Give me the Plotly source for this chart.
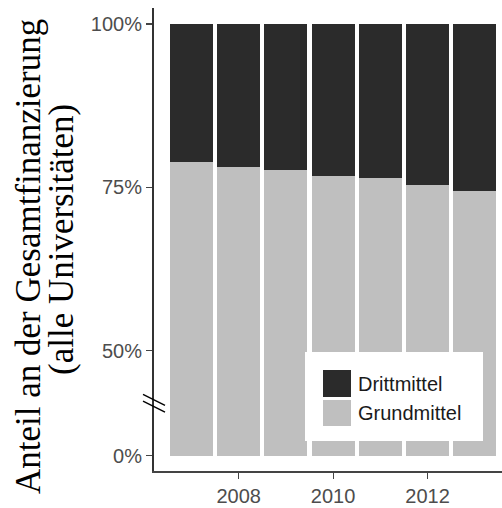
import plotly.graph_objects as go

# ---- data ----
years = [2007, 2008, 2009, 2010, 2011, 2012, 2013]
grundmittel = [78.9, 78.1, 77.6, 76.7, 76.4, 75.4, 74.5]   # % share
drittmittel = [round(100 - g, 1) for g in grundmittel]
series_names = ["Drittmittel", "Grundmittel"]
series_colors = ["#2b2b2b", "#bfbfbf"]
y_tick_values = [0, 50, 75, 100]
y_tick_labels = ["0%", "50%", "75%", "100%"]
x_tick_values = [2008, 2010, 2012]
y_title_lines = ["Anteil an der Gesamtfinanzierung", "(alle Universitäten)"]

# ---- broken-axis transform (0..50 compressed) ----
BREAK_AT = 50.0
LOWER_SCALE = 0.3214


def t(v):
    return v if v >= BREAK_AT else BREAK_AT - (BREAK_AT - v) * LOWER_SCALE


W, H = 502, 508
L, R, T, B = 154, 502, 8, 471


def px(xp):
    return (xp - L) / (R - L)


def py(yp):
    return (B - yp) / (B - T)


sans = "Liberation Sans, Arial, sans-serif"
tick_font = dict(family=sans, size=20, color="#4d4d4d")

fig = go.Figure()
base0 = t(0)
fig.add_trace(go.Bar(
    x=years, y=[t(g) - base0 for g in grundmittel], base=[base0] * len(years),
    marker=dict(color=series_colors[1], line=dict(width=0)), width=0.91,
    name=series_names[1], showlegend=False, hoverinfo="skip"))
fig.add_trace(go.Bar(
    x=years, y=[t(100) - t(g) for g in grundmittel], base=[t(g) for g in grundmittel],
    marker=dict(color=series_colors[0], line=dict(width=0)), width=0.91,
    name=series_names[0], showlegend=False, hoverinfo="skip"))

shapes = []
# break marks on the y axis
mid = (t(0) + t(BREAK_AT)) / 2
for off in (3.4, -3.4):
    shapes.append(dict(type="line", xref="paper", xsizemode="pixel", xanchor=0,
                       yref="y", ysizemode="pixel", yanchor=mid,
                       x0=-11, x1=11, y0=5.5 + off, y1=-5.5 + off,
                       line=dict(color="black", width=1.5), layer="above"))
# manual legend
shapes.append(dict(type="rect", xref="paper", yref="paper",
                   x0=px(305), x1=px(483), y0=py(441), y1=py(352),
                   fillcolor="white", line=dict(width=0), layer="above"))
key_rows = [(370, 397), (400, 426)]
annotations = []
for name, color, (ya, yb) in zip(series_names, series_colors, key_rows):
    shapes.append(dict(type="rect", xref="paper", yref="paper",
                       x0=px(323), x1=px(351), y0=py(yb), y1=py(ya),
                       fillcolor=color, line=dict(width=0), layer="above"))
    annotations.append(dict(text=name, xref="paper", yref="paper",
                            x=px(356), y=py((ya + yb) / 2), xanchor="left", yanchor="middle",
                            showarrow=False,
                            font=dict(family=sans, size=20, color="#1a1a1a")))

# y axis title (two centred lines)
for line_text, xc, yc in zip(y_title_lines, (28, 61), (257, 240)):
    annotations.append(dict(text=line_text, textangle=-90, xref="paper", yref="paper",
                            x=px(xc), y=py(yc), xanchor="center", yanchor="middle",
                            showarrow=False,
                            font=dict(family="Liberation Serif, Times New Roman, serif",
                                      size=35, color="black")))

fig.update_layout(
    width=W, height=H,
    margin=dict(l=L, r=W - R, t=T, b=H - B, pad=0, autoexpand=False),
    plot_bgcolor="white", paper_bgcolor="white",
    barmode="overlay", bargap=0,
    showlegend=False, hovermode=False,
    shapes=shapes, annotations=annotations,
    xaxis=dict(range=[2006.206, 2013.578], tickvals=x_tick_values,
               ticktext=[str(v) for v in x_tick_values],
               showgrid=False, zeroline=False, showline=True, automargin=False,
               linecolor="#444444", linewidth=2,
               ticks="outside", ticklen=6, tickwidth=1.2, tickcolor="#444444",
               tickfont=tick_font),
    yaxis=dict(range=[31.59, 102.45], tickvals=[t(v) for v in y_tick_values],
               ticktext=y_tick_labels, automargin=False,
               showgrid=False, zeroline=False, showline=True,
               linecolor="#333333", linewidth=2,
               ticks="outside", ticklen=6, tickwidth=1.2, tickcolor="#444444",
               tickfont=tick_font),
)

fig.write_html("out.html", config={"displayModeBar": False, "staticPlot": True},
               post_script="document.body.style.margin='0';document.body.style.overflow='hidden';")
